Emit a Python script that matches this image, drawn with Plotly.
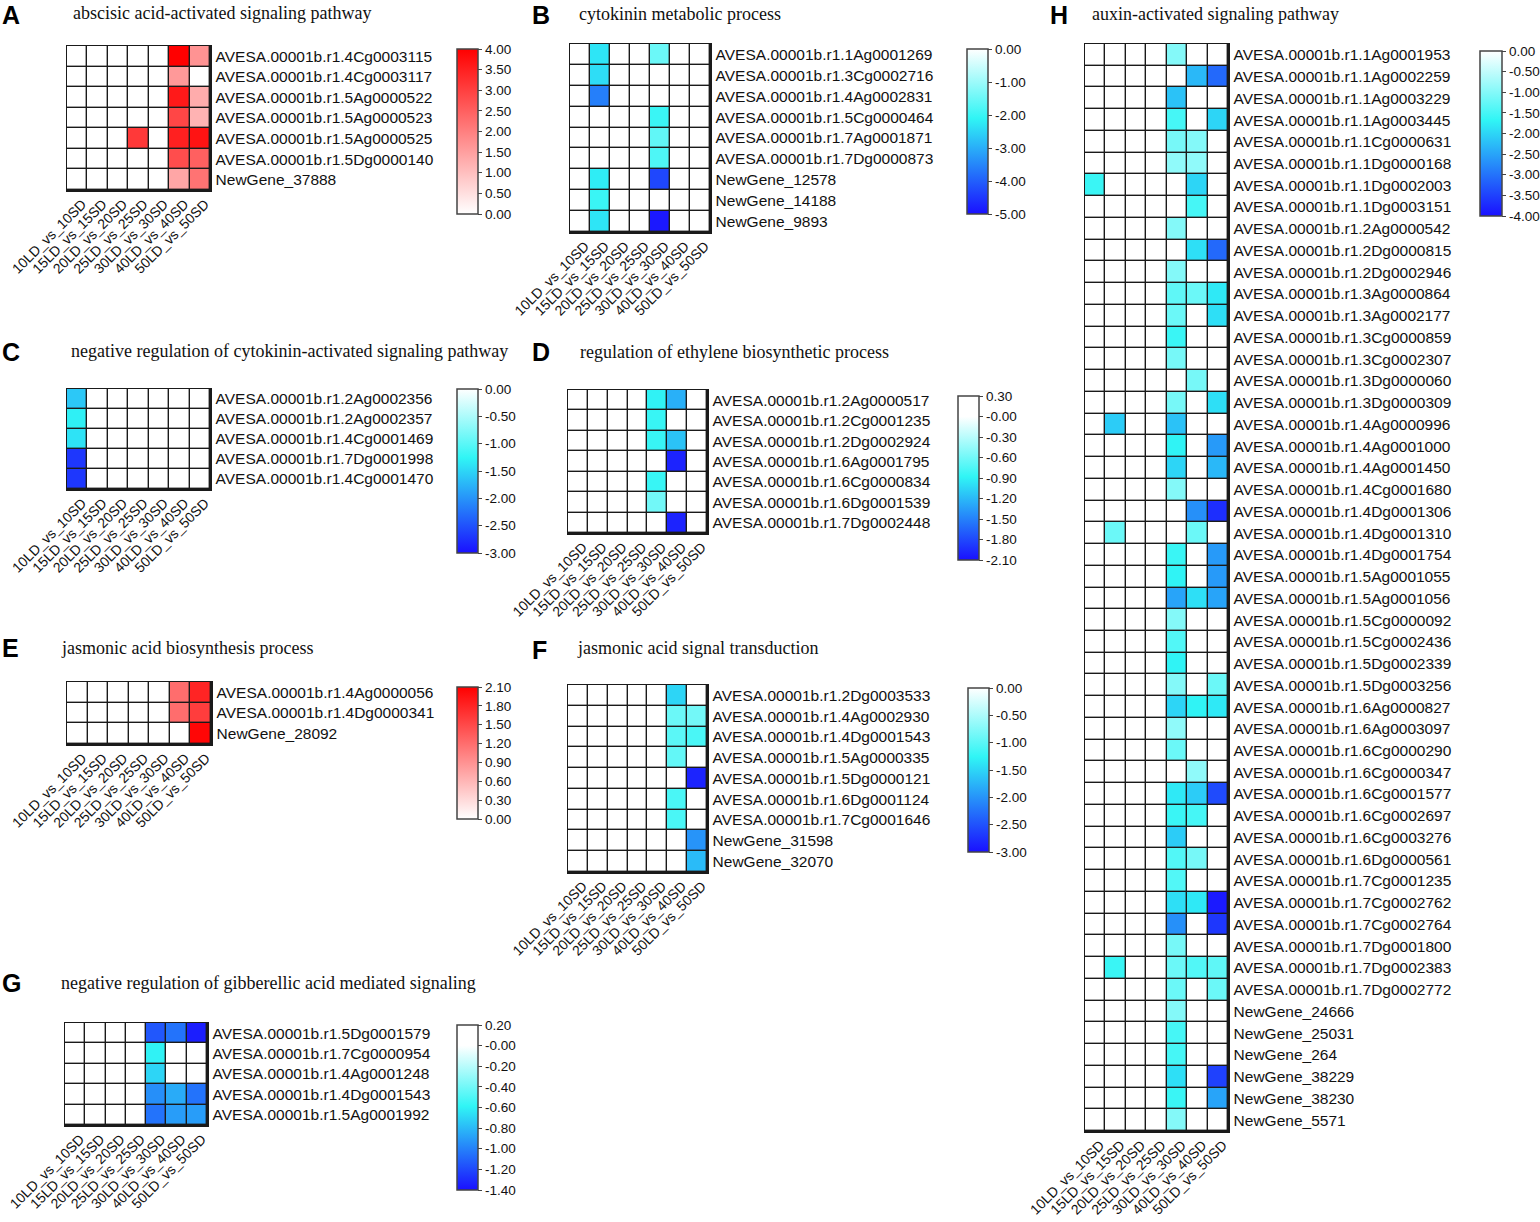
import plotly.graph_objects as go

W, H = 1540, 1222

COLS = ["10LD_vs_10SD", "15LD_vs_15SD", "20LD_vs_20SD", "25LD_vs_25SD",
        "30LD_vs_30SD", "40LD_vs_40SD", "50LD_vs_50SD"]

# ---------------- Panel A ----------------
A_title = "abscisic acid-activated signaling pathway"
A_genes = ["AVESA.00001b.r1.4Cg0003115", "AVESA.00001b.r1.4Cg0003117",
           "AVESA.00001b.r1.5Ag0000522", "AVESA.00001b.r1.5Ag0000523",
           "AVESA.00001b.r1.5Ag0000525", "AVESA.00001b.r1.5Dg0000140",
           "NewGene_37888"]
A_values = [[0, 0, 0, 0, 0, 4.0, 1.7],
            [0, 0, 0, 0, 0, 1.6, 0],
            [0, 0, 0, 0, 0, 3.6, 1.3],
            [0, 0, 0, 0, 0, 2.9, 1.2],
            [0, 0, 0, 3.1, 0, 3.5, 3.7],
            [0, 0, 0, 0, 0, 2.8, 2.5],
            [0, 0, 0, 0, 0, 1.4, 2.2]]
A_ticks = [4.0, 3.5, 3.0, 2.5, 2.0, 1.5, 1.0, 0.5, 0.0]
A_ticktext = ["4.00", "3.50", "3.00", "2.50", "2.00", "1.50", "1.00", "0.50", "0.00"]

# ---------------- Panel B ----------------
B_title = "cytokinin metabolic process"
B_genes = ["AVESA.00001b.r1.1Ag0001269", "AVESA.00001b.r1.3Cg0002716",
           "AVESA.00001b.r1.4Ag0002831", "AVESA.00001b.r1.5Cg0000464",
           "AVESA.00001b.r1.7Ag0001871", "AVESA.00001b.r1.7Dg0000873",
           "NewGene_12578", "NewGene_14188", "NewGene_9893"]
B_values = [[0, -2.3, 0, 0, -1.5, 0, 0],
            [0, -2.4, 0, 0, 0, 0, 0],
            [0, -3.6, 0, 0, 0, 0, 0],
            [0, 0, 0, 0, -2.0, 0, 0],
            [0, 0, 0, 0, -1.6, 0, 0],
            [0, 0, 0, 0, -1.8, 0, 0],
            [0, -2.2, 0, 0, -4.3, 0, 0],
            [0, -2.0, 0, 0, 0, 0, 0],
            [0, -2.3, 0, 0, -4.9, 0, 0]]
B_ticks = [0, -1, -2, -3, -4, -5]
B_ticktext = ["0.00", "-1.00", "-2.00", "-3.00", "-4.00", "-5.00"]

# ---------------- Panel C ----------------
C_title = "negative regulation of cytokinin-activated signaling pathway"
C_genes = ["AVESA.00001b.r1.2Ag0002356", "AVESA.00001b.r1.2Ag0002357",
           "AVESA.00001b.r1.4Cg0001469", "AVESA.00001b.r1.7Dg0001998",
           "AVESA.00001b.r1.4Cg0001470"]
C_values = [[-1.6, 0, 0, 0, 0, 0, 0],
            [-1.3, 0, 0, 0, 0, 0, 0],
            [-1.4, 0, 0, 0, 0, 0, 0],
            [-2.7, 0, 0, 0, 0, 0, 0],
            [-2.7, 0, 0, 0, 0, 0, 0]]
C_ticks = [0, -0.5, -1.0, -1.5, -2.0, -2.5, -3.0]
C_ticktext = ["0.00", "-0.50", "-1.00", "-1.50", "-2.00", "-2.50", "-3.00"]

# ---------------- Panel D ----------------
D_title = "regulation of ethylene biosynthetic process"
D_genes = ["AVESA.00001b.r1.2Ag0000517", "AVESA.00001b.r1.2Cg0001235",
           "AVESA.00001b.r1.2Dg0002924", "AVESA.00001b.r1.6Ag0001795",
           "AVESA.00001b.r1.6Cg0000834", "AVESA.00001b.r1.6Dg0001539",
           "AVESA.00001b.r1.7Dg0002448"]
D_values = [[0, 0, 0, 0, -0.9, -1.25, 0],
            [0, 0, 0, 0, -0.85, 0, 0],
            [0, 0, 0, 0, -0.85, -1.15, 0],
            [0, 0, 0, 0, 0, -2.0, 0],
            [0, 0, 0, 0, -0.85, 0, 0],
            [0, 0, 0, 0, -0.6, 0, 0],
            [0, 0, 0, 0, 0, -2.0, 0]]
D_ticks = [0.3, 0.0, -0.3, -0.6, -0.9, -1.2, -1.5, -1.8, -2.1]
D_ticktext = ["0.30", "-0.00", "-0.30", "-0.60", "-0.90", "-1.20", "-1.50", "-1.80", "-2.10"]

# ---------------- Panel E ----------------
E_title = "jasmonic acid biosynthesis process"
E_genes = ["AVESA.00001b.r1.4Ag0000056", "AVESA.00001b.r1.4Dg0000341",
           "NewGene_28092"]
E_values = [[0, 0, 0, 0, 0, 1.2, 1.8],
            [0, 0, 0, 0, 0, 1.2, 1.6],
            [0, 0, 0, 0, 0, 0, 2.05]]
E_ticks = [2.1, 1.8, 1.5, 1.2, 0.9, 0.6, 0.3, 0.0]
E_ticktext = ["2.10", "1.80", "1.50", "1.20", "0.90", "0.60", "0.30", "0.00"]

# ---------------- Panel F ----------------
F_title = "jasmonic acid signal transduction"
F_genes = ["AVESA.00001b.r1.2Dg0003533", "AVESA.00001b.r1.4Ag0002930",
           "AVESA.00001b.r1.4Dg0001543", "AVESA.00001b.r1.5Ag0000335",
           "AVESA.00001b.r1.5Dg0000121", "AVESA.00001b.r1.6Dg0001124",
           "AVESA.00001b.r1.7Cg0001646", "NewGene_31598", "NewGene_32070"]
F_values = [[0, 0, 0, 0, 0, -1.5, 0],
            [0, 0, 0, 0, 0, -0.9, -0.85],
            [0, 0, 0, 0, 0, -1.0, -1.1],
            [0, 0, 0, 0, 0, -0.95, 0],
            [0, 0, 0, 0, 0, 0, -2.85],
            [0, 0, 0, 0, 0, -1.1, 0],
            [0, 0, 0, 0, 0, -1.1, 0],
            [0, 0, 0, 0, 0, 0, -2.0],
            [0, 0, 0, 0, 0, 0, -1.7]]
F_ticks = [0, -0.5, -1.0, -1.5, -2.0, -2.5, -3.0]
F_ticktext = ["0.00", "-0.50", "-1.00", "-1.50", "-2.00", "-2.50", "-3.00"]

# ---------------- Panel G ----------------
G_title = "negative regulation of gibberellic acid mediated signaling"
G_genes = ["AVESA.00001b.r1.5Dg0001579", "AVESA.00001b.r1.7Cg0000954",
           "AVESA.00001b.r1.4Ag0001248", "AVESA.00001b.r1.4Dg0001543",
           "AVESA.00001b.r1.5Ag0001992"]
G_values = [[0, 0, 0, 0, -1.15, -1.05, -1.35],
            [0, 0, 0, 0, -0.6, 0, 0],
            [0, 0, 0, 0, -0.7, 0, 0],
            [0, 0, 0, 0, -0.95, -0.85, -1.05],
            [0, 0, 0, 0, -1.05, -0.9, -0.9]]
G_ticks = [0.2, 0.0, -0.2, -0.4, -0.6, -0.8, -1.0, -1.2, -1.4]
G_ticktext = ["0.20", "-0.00", "-0.20", "-0.40", "-0.60", "-0.80", "-1.00", "-1.20", "-1.40"]

# ---------------- Panel H ----------------
H_title = "auxin-activated signaling pathway"
H_genes = ["AVESA.00001b.r1.1Ag0001953", "AVESA.00001b.r1.1Ag0002259",
           "AVESA.00001b.r1.1Ag0003229", "AVESA.00001b.r1.1Ag0003445",
           "AVESA.00001b.r1.1Cg0000631", "AVESA.00001b.r1.1Dg0000168",
           "AVESA.00001b.r1.1Dg0002003", "AVESA.00001b.r1.1Dg0003151",
           "AVESA.00001b.r1.2Ag0000542", "AVESA.00001b.r1.2Dg0000815",
           "AVESA.00001b.r1.2Dg0002946", "AVESA.00001b.r1.3Ag0000864",
           "AVESA.00001b.r1.3Ag0002177", "AVESA.00001b.r1.3Cg0000859",
           "AVESA.00001b.r1.3Cg0002307", "AVESA.00001b.r1.3Dg0000060",
           "AVESA.00001b.r1.3Dg0000309", "AVESA.00001b.r1.4Ag0000996",
           "AVESA.00001b.r1.4Ag0001000", "AVESA.00001b.r1.4Ag0001450",
           "AVESA.00001b.r1.4Cg0001680", "AVESA.00001b.r1.4Dg0001306",
           "AVESA.00001b.r1.4Dg0001310", "AVESA.00001b.r1.4Dg0001754",
           "AVESA.00001b.r1.5Ag0001055", "AVESA.00001b.r1.5Ag0001056",
           "AVESA.00001b.r1.5Cg0000092", "AVESA.00001b.r1.5Cg0002436",
           "AVESA.00001b.r1.5Dg0002339", "AVESA.00001b.r1.5Dg0003256",
           "AVESA.00001b.r1.6Ag0000827", "AVESA.00001b.r1.6Ag0003097",
           "AVESA.00001b.r1.6Cg0000290", "AVESA.00001b.r1.6Cg0000347",
           "AVESA.00001b.r1.6Cg0001577", "AVESA.00001b.r1.6Cg0002697",
           "AVESA.00001b.r1.6Cg0003276", "AVESA.00001b.r1.6Dg0000561",
           "AVESA.00001b.r1.7Cg0001235", "AVESA.00001b.r1.7Cg0002762",
           "AVESA.00001b.r1.7Cg0002764", "AVESA.00001b.r1.7Dg0001800",
           "AVESA.00001b.r1.7Dg0002383", "AVESA.00001b.r1.7Dg0002772",
           "NewGene_24666", "NewGene_25031", "NewGene_264",
           "NewGene_38229", "NewGene_38230", "NewGene_5571"]
H_values = [[0, 0, 0, 0, -1.0, 0, 0],
            [0, 0, 0, 0, 0, -2.3, -3.1],
            [0, 0, 0, 0, -2.2, 0, 0],
            [0, 0, 0, 0, -1.5, 0, -2.0],
            [0, 0, 0, 0, -1.1, -1.0, 0],
            [0, 0, 0, 0, -0.9, -0.9, 0],
            [-1.6, 0, 0, 0, 0, -2.0, 0],
            [0, 0, 0, 0, 0, -1.5, 0],
            [0, 0, 0, 0, -1.0, 0, 0],
            [0, 0, 0, 0, 0, -1.9, -3.1],
            [0, 0, 0, 0, -1.0, 0, 0],
            [0, 0, 0, 0, -1.3, -1.2, -1.8],
            [0, 0, 0, 0, -1.2, 0, -1.9],
            [0, 0, 0, 0, -1.6, 0, 0],
            [0, 0, 0, 0, -1.1, 0, 0],
            [0, 0, 0, 0, 0, -1.1, 0],
            [0, 0, 0, 0, -1.1, 0, -1.9],
            [0, -2.1, 0, 0, -2.2, 0, 0],
            [0, 0, 0, 0, -1.7, 0, -2.6],
            [0, 0, 0, 0, -2.0, 0, -2.3],
            [0, 0, 0, 0, -1.0, 0, 0],
            [0, 0, 0, 0, 0, -2.7, -3.7],
            [0, -1.2, 0, 0, 0, -1.2, 0],
            [0, 0, 0, 0, -1.6, 0, -2.6],
            [0, 0, 0, 0, -1.7, 0, -2.6],
            [0, 0, 0, 0, -2.5, -1.9, -2.5],
            [0, 0, 0, 0, -1.0, 0, 0],
            [0, 0, 0, 0, -1.4, 0, 0],
            [0, 0, 0, 0, -1.7, 0, 0],
            [0, 0, 0, 0, -1.0, 0, -1.2],
            [0, 0, 0, 0, -2.0, -1.7, -1.8],
            [0, 0, 0, 0, -0.9, 0, 0],
            [0, 0, 0, 0, -1.2, 0, 0],
            [0, 0, 0, 0, 0, -0.9, 0],
            [0, 0, 0, 0, -1.8, -2.1, -3.4],
            [0, 0, 0, 0, -1.6, -1.5, 0],
            [0, 0, 0, 0, -2.1, 0, 0],
            [0, 0, 0, 0, -1.4, -1.1, 0],
            [0, 0, 0, 0, -1.4, 0, 0],
            [0, 0, 0, 0, -1.9, -1.8, -3.9],
            [0, 0, 0, 0, -2.7, 0, -3.6],
            [0, 0, 0, 0, -1.1, 0, 0],
            [0, -1.6, 0, 0, -1.2, -1.4, -1.3],
            [0, 0, 0, 0, -1.2, 0, -1.2],
            [0, 0, 0, 0, -1.0, 0, 0],
            [0, 0, 0, 0, -1.5, 0, 0],
            [0, 0, 0, 0, -1.5, 0, 0],
            [0, 0, 0, 0, -1.9, 0, -3.5],
            [0, 0, 0, 0, -1.6, 0, -2.5],
            [0, 0, 0, 0, -1.0, 0, 0]]
H_ticks = [0, -0.5, -1.0, -1.5, -2.0, -2.5, -3.0, -3.5, -4.0]
H_ticktext = ["0.00", "-0.50", "-1.00", "-1.50", "-2.00", "-2.50", "-3.00", "-3.50", "-4.00"]

# ---------------- styling / geometry (pixels) ----------------
RED = "#ff0000"
BLUE = "#1a10ff"
CYAN = "#30f5f5"
WHITE = "#ffffff"
LABEL_SHIFT = 0.25   # x tick-label offset (fraction of a cell) to match the reference


def red_scale():
    return [[0, WHITE], [1, RED]]


def blue_scale(zmin, zmax):
    def pos(v):
        return (v - zmin) / (zmax - zmin)
    sc = [[0, BLUE], [pos(0.42 * zmin), CYAN], [pos(0), WHITE]]
    if zmax > 0:
        sc.append([1, WHITE])
    return sc


panels = [
    dict(letter="A", title=A_title, genes=A_genes, values=A_values, ticks=A_ticks, ticktext=A_ticktext,
         zmin=0, zmax=4.0, kind="red",
         grid=(67, 210, 46, 190), cb=(457, 478, 49, 214), lab=(0, 15), tit=(71, 13)),
    dict(letter="B", title=B_title, genes=B_genes, values=B_values, ticks=B_ticks, ticktext=B_ticktext,
         zmin=-5, zmax=0, kind="blue",
         grid=(570, 710, 44, 232), cb=(967, 988, 49, 214), lab=(530, 15), tit=(577, 14)),
    dict(letter="C", title=C_title, genes=C_genes, values=C_values, ticks=C_ticks, ticktext=C_ticktext,
         zmin=-3, zmax=0, kind="blue",
         grid=(67, 210, 389, 489), cb=(457, 478, 389, 553), lab=(0, 352), tit=(69, 351)),
    dict(letter="D", title=D_title, genes=D_genes, values=D_values, ticks=D_ticks, ticktext=D_ticktext,
         zmin=-2.1, zmax=0.3, kind="blue",
         grid=(568, 707, 390, 533), cb=(958, 979, 396, 560), lab=(530, 352), tit=(578, 352)),
    dict(letter="E", title=E_title, genes=E_genes, values=E_values, ticks=E_ticks, ticktext=E_ticktext,
         zmin=0, zmax=2.1, kind="red",
         grid=(67, 211, 682, 744), cb=(457, 478, 687, 819), lab=(0, 648), tit=(59, 648)),
    dict(letter="F", title=F_title, genes=F_genes, values=F_values, ticks=F_ticks, ticktext=F_ticktext,
         zmin=-3, zmax=0, kind="blue",
         grid=(568, 707, 685, 872), cb=(968, 989, 688, 852), lab=(530, 650), tit=(575, 648)),
    dict(letter="G", title=G_title, genes=G_genes, values=G_values, ticks=G_ticks, ticktext=G_ticktext,
         zmin=-1.4, zmax=0.2, kind="blue",
         grid=(65, 207, 1023, 1125), cb=(457, 478, 1025, 1190), lab=(0, 983), tit=(59, 983)),
    dict(letter="H", title=H_title, genes=H_genes, values=H_values, ticks=H_ticks, ticktext=H_ticktext,
         zmin=-4, zmax=0, kind="blue",
         grid=(1085, 1228, 44, 1131), cb=(1480, 1502, 51, 216), lab=(1048, 15), tit=(1090, 14)),
]


def fx(x):
    return x / W


def fy(y):
    return 1 - y / H


SANS = "Liberation Sans, Arial, sans-serif"
SERIF = "Liberation Serif, Times New Roman, serif"

fig = go.Figure()
layout = dict(width=W, height=H, margin=dict(l=0, r=0, t=0, b=0, pad=0, autoexpand=False),
              paper_bgcolor="white", plot_bgcolor="#1a1a1a", showlegend=False,
              annotations=[])

for i, p in enumerate(panels):
    n = len(p["genes"])
    xk = "x" if i == 0 else f"x{i+1}"
    yk = "y" if i == 0 else f"y{i+1}"
    xa = "xaxis" if i == 0 else f"xaxis{i+1}"
    ya = "yaxis" if i == 0 else f"yaxis{i+1}"
    gx0, gx1, gy0, gy1 = p["grid"]
    cx0, cx1, cy0, cy1 = p["cb"]
    cs = red_scale() if p["kind"] == "red" else blue_scale(p["zmin"], p["zmax"])
    fig.add_trace(go.Heatmap(
        z=p["values"], x=list(range(7)), y=list(range(n)),
        xaxis=xk, yaxis=yk, colorscale=cs, zmin=p["zmin"], zmax=p["zmax"],
        xgap=1.4, ygap=1.4, hoverinfo="skip",
        colorbar=dict(
            x=fx(cx0), xanchor="left", xpad=0,
            y=fy(cy0), yanchor="top", ypad=0,
            len=cy1 - cy0, lenmode="pixels",
            thickness=cx1 - cx0, thicknessmode="pixels",
            outlinecolor="#444444", outlinewidth=1.5,
            tickmode="array", tickvals=p["ticks"], ticktext=p["ticktext"],
            ticks="outside", ticklen=4, tickwidth=1, tickcolor="#444444",
            tickfont=dict(family=SANS, size=13.5, color="#111111"),
        ),
    ))
    layout[xa] = dict(domain=[fx(gx0), fx(gx1)], anchor=yk, range=[-0.5, 6.5],
                      tickmode="array", tickvals=[k + LABEL_SHIFT for k in range(7)], ticktext=COLS,
                      tickangle=-45, ticks="", ticklabelstandoff=-1,
                      showgrid=False, zeroline=False,
                      showline=True, mirror=True, linecolor="#1a1a1a", linewidth=1.5,
                      tickfont=dict(family=SANS, size=14, color="#111111"),
                      ticklabeloverflow="allow",
                      automargin=False, fixedrange=True)
    layout[ya] = dict(domain=[fy(gy1), fy(gy0)], anchor=xk, range=[n - 0.5, -0.5],
                      tickmode="array", tickvals=list(range(n)), ticktext=p["genes"],
                      side="right", ticks="", ticklabelstandoff=1,
                      showgrid=False, zeroline=False,
                      showline=True, mirror=True, linecolor="#1a1a1a", linewidth=1.5,
                      tickfont=dict(family=SANS, size=15.5, color="#111111"),
                      ticklabeloverflow="allow",
                      automargin=False, fixedrange=True)
    lx, ly = p["lab"]
    tx, ty = p["tit"]
    layout["annotations"].append(dict(
        x=fx(lx), y=fy(ly), xref="paper", yref="paper", xanchor="left", yanchor="middle",
        text="<b>" + p["letter"] + "</b>", showarrow=False,
        font=dict(family=SANS, size=25, color="#000000")))
    layout["annotations"].append(dict(
        x=fx(tx), y=fy(ty), xref="paper", yref="paper", xanchor="left", yanchor="middle",
        text=p["title"], showarrow=False,
        font=dict(family=SERIF, size=18, color="#111111")))

fig.update_layout(**layout)
fig.write_html(
    "out.html",
    config={"displayModeBar": False, "staticPlot": True},
    post_script="document.body.style.margin='0';document.body.style.padding='0';"
                "document.body.style.overflow='hidden';"
                "document.documentElement.style.overflow='hidden';",
)
